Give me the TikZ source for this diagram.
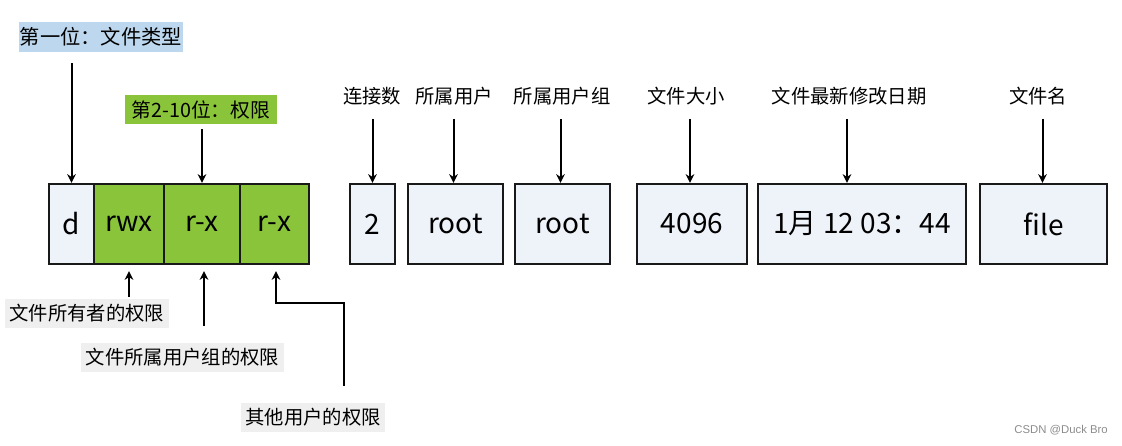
\documentclass[tikz,border=0pt]{standalone}
\usepackage{fontspec}
\setmainfont{Noto Sans CJK SC}
\newfontfamily\wmfont{Liberation Sans}
\usetikzlibrary{arrows.meta,calc}
\definecolor{cellbg}{HTML}{EEF2F9}
\definecolor{cellgreen}{HTML}{8AC43A}
\definecolor{typebg}{HTML}{BDD7EE}
\definecolor{notebg}{HTML}{EFEFEF}
\tikzset{
  cell/.style={draw=black!90, line width=1.8pt, fill=cellbg, minimum height=60pt, inner sep=0pt, font=\fontsize{21}{25}\selectfont},
  gcell/.style={cell, fill=cellgreen},
  toplab/.style={inner sep=0pt, text height=0.8em, text depth=0.2em, font=\fontsize{14.5}{17}\selectfont},
  notelab/.style={fill=notebg, inner sep=0pt, minimum height=21.75pt, font=\fontsize{14.5}{17}\selectfont},
  arr/.style={line width=1.5pt, -{Stealth[length=6.5pt,width=6.5pt]}}
}
\begin{document}
\begin{tikzpicture}[x=0.75pt,y=-0.75pt]
\useasboundingbox (0,0) rectangle (1122,446);
% cells
\node[cell, minimum width=33.75pt] (d) at (71.5,224) {d};
\node[gcell, minimum width=52.5pt] (rwx) at (129,224) {rwx};
\node[gcell, minimum width=57pt] (rx1) at (202,224) {r-x};
\node[gcell, minimum width=51.75pt] (rx2) at (274.5,224) {r-x};
\node[cell, minimum width=33.75pt] (two) at (372.5,224) {2};
\node[cell, minimum width=71.25pt] (root1) at (455.5,224) {root};
\node[cell, minimum width=71.25pt] (root2) at (562.5,224) {root};
\node[cell, minimum width=82.5pt] (size) at (692,224) {4096};
\node[cell, minimum width=156pt] (date) at (862,224) {1月 12 03：44};
\node[cell, minimum width=95.25pt] (file) at (1043.5,224) {file};
% top labels
\node[fill=typebg, inner sep=0pt, minimum width=123pt, minimum height=22.5pt, font=\fontsize{15.2}{18}\selectfont] (type) at (101,37) {第一位：文件类型};
\node[fill=cellgreen, inner sep=0pt, minimum width=114pt, minimum height=21.75pt, font=\fontsize{14.8}{17}\selectfont] (perm) at (201,109.5) {第2-10位：权限};
\node[toplab] (conn) at (372,99) {连接数};
\node[toplab] (user) at (454,99) {所属用户};
\node[toplab] (grp) at (562,99) {所属用户组};
\node[toplab] (sz) at (686,99) {文件大小};
\node[toplab] (dt) at (849,99) {文件最新修改日期};
\node[toplab] (fn) at (1038,99) {文件名};
% bottom labels
\node[notelab, minimum width=123pt] (owner) at (87,313.5) {文件所有者的权限};
\node[notelab, minimum width=152.25pt] (group) at (182.5,357.5) {文件所属用户组的权限};
\node[notelab, minimum width=108pt] (other) at (313,417.5) {其他用户的权限};
% top arrows
\draw[arr] ($(type.south -| d.north)+(0,11)$) -- (d.north);
\draw[arr] ($(perm.south -| rx1.north)+(0,5)$) -- (rx1.north);
\draw[arr] ($(two.north |- conn.south)+(0,13)$) -- (two.north);
\draw[arr] ($(root1.north |- user.south)+(-2,13)$) -- ($(root1.north)+(-2,0)$);
\draw[arr] ($(root2.north |- grp.south)+(-2,13)$) -- ($(root2.north)+(-2,0)$);
\draw[arr] ($(size.north |- sz.south)+(-2,13)$) -- ($(size.north)+(-2,0)$);
\draw[arr] ($(dt.south)+(-2,13)$) -- ($(dt.south |- date.north)+(-2,0)$);
\draw[arr] ($(file.north |- fn.south)+(-1,13)$) -- ($(file.north)+(-1,0)$);
% bottom arrows
\draw[arr] ($(owner.north -| rwx.south)+(0,-2)$) -- ($(rwx.south)+(0,6)$);
\draw[arr] ($(group.north -| rx1.south)+(2,-17)$) -- ($(rx1.south)+(2,6)$);
\draw[arr] ($(other.north)+(31,-17)$) |- ($(rx2.south)+(1.5,38)$) -- ($(rx2.south)+(1.5,6)$);
% watermark
\node[text=black!45, font=\fontsize{8.5}{10}\selectfont\wmfont, anchor=east, inner sep=0pt] (wm) at (1108,430) {CSDN @Duck Bro};
\end{tikzpicture}
\end{document}
